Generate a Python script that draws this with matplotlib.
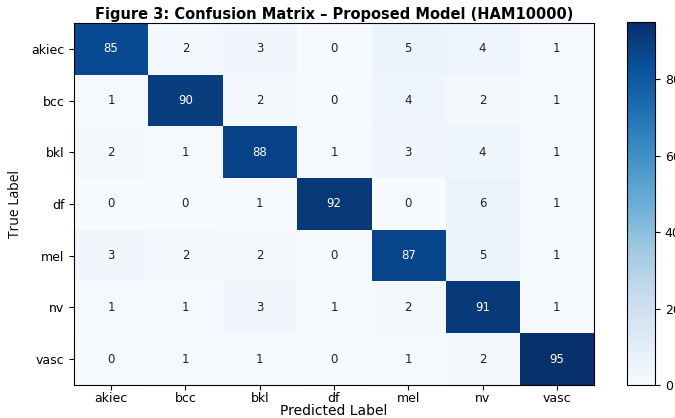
import matplotlib
matplotlib.use("Agg")
import matplotlib.pyplot as plt
import numpy as np

CLASSES = ["akiec", "bcc", "bkl", "df", "mel", "nv", "vasc"]

# rows = true label, columns = predicted label
ROW_AKIEC = [85, 2, 3, 0, 5, 4, 1]
ROW_BCC = [1, 90, 2, 0, 4, 2, 1]
ROW_BKL = [2, 1, 88, 1, 3, 4, 1]
ROW_DF = [0, 0, 1, 92, 0, 6, 1]
ROW_MEL = [3, 2, 2, 0, 87, 5, 1]
ROW_NV = [1, 1, 3, 1, 2, 91, 1]
ROW_VASC = [0, 1, 1, 0, 1, 2, 95]

CBAR_TICKS = [0, 20, 40, 60, 80]


def main() -> None:
    cm = np.array([ROW_AKIEC, ROW_BCC, ROW_BKL, ROW_DF, ROW_MEL, ROW_NV, ROW_VASC])

    fig = plt.figure(figsize=(6.75, 4.18), dpi=100)
    ax = fig.add_axes([0.1096, 0.079, 0.7704, 0.866])
    cax = fig.add_axes([0.929, 0.079, 0.0415, 0.868])

    im = ax.imshow(cm, cmap="Blues", aspect="auto", vmin=0, vmax=cm.max())
    thresh = cm.max() / 2.0
    for i in range(cm.shape[0]):
        for j in range(cm.shape[1]):
            val = cm[i, j]
            ax.text(j, i, f"{val}", ha="center", va="center", fontsize=8.5,
                    color="white" if val > thresh else "#222222")

    ax.set_xticks(range(len(CLASSES)))
    ax.set_xticklabels(CLASSES, fontsize=9)
    ax.set_yticks(range(len(CLASSES)))
    ax.set_yticklabels(CLASSES, fontsize=9)
    ax.tick_params(axis="x", pad=1.5)
    ax.set_xlabel("Predicted Label", fontsize=10, labelpad=-1)
    ax.set_ylabel("True Label", fontsize=10, family="Open Sans", labelpad=6)
    ax.set_title("Figure 3: Confusion Matrix \u2013 Proposed Model (HAM10000)",
                 fontsize=10.5, fontweight="bold", pad=3)

    cbar = fig.colorbar(im, cax=cax)
    cbar.set_ticks(CBAR_TICKS)
    cbar.ax.tick_params(labelsize=9)

    fig.savefig("out.png", dpi=100)
    plt.close(fig)


if __name__ == "__main__":
    main()
